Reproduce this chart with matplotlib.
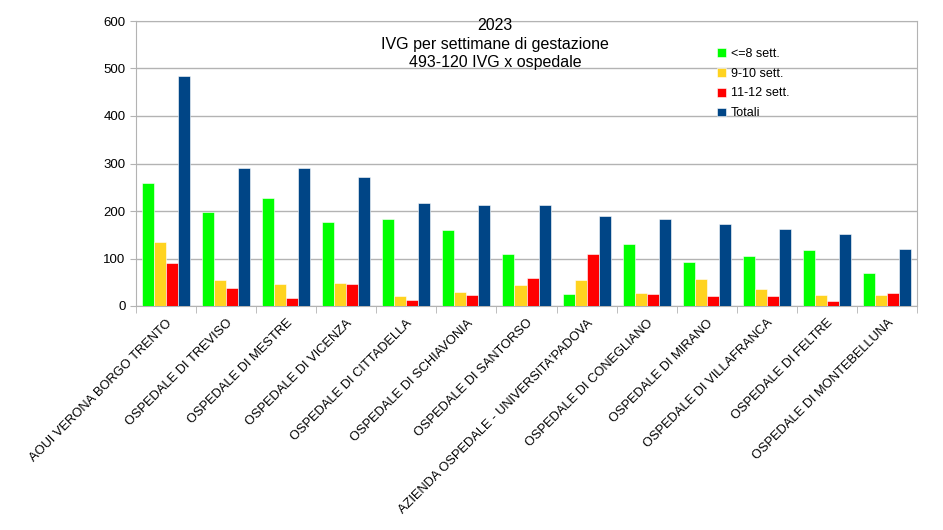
import matplotlib.pyplot as plt
import numpy as np

plt.rcParams['font.family'] = ['Liberation Sans', 'DejaVu Sans']

# Dati
ospedali = [
    "AOUI VERONA BORGO TRENTO",
    "OSPEDALE DI TREVISO",
    "OSPEDALE DI MESTRE",
    "OSPEDALE DI VICENZA",
    "OSPEDALE DI CITTADELLA",
    "OSPEDALE DI SCHIAVONIA",
    "OSPEDALE DI SANTORSO",
    "AZIENDA OSPEDALE - UNIVERSITA'PADOVA",
    "OSPEDALE DI CONEGLIANO",
    "OSPEDALE DI MIRANO",
    "OSPEDALE DI VILLAFRANCA",
    "OSPEDALE DI FELTRE",
    "OSPEDALE DI MONTEBELLUNA",
]
fino_8 = [258, 198, 228, 177, 183, 160, 110, 25, 131, 93, 105, 117, 70]
sett_9_10 = [135, 55, 46, 48, 21, 30, 44, 55, 28, 57, 36, 23, 24]
sett_11_12 = [91, 37, 16, 46, 13, 23, 59, 110, 25, 22, 21, 10, 27]
totali = [484, 290, 290, 271, 217, 213, 213, 190, 184, 172, 162, 151, 121]

serie = [
    ("<=8 sett.", fino_8, "#00ff00"),
    ("9-10 sett.", sett_9_10, "#ffd320"),
    ("11-12 sett.", sett_11_12, "#ff0000"),
    ("Totali", totali, "#004586"),
]

fig = plt.figure(figsize=(9.43, 5.30), dpi=100)
ax = fig.add_axes([136 / 943, 1 - 306 / 530, (917 - 136) / 943, (306 - 21) / 530])

x = np.arange(len(ospedali))
w = 0.2
for i, (nome, valori, colore) in enumerate(serie):
    ax.bar(x - 0.3 + i * w, valori, width=w, color=colore, label=nome,
           edgecolor="#ffffff", linewidth=0.4, zorder=3)

ax.set_xlim(-0.5, len(ospedali) - 0.5)
ax.set_ylim(0, 600)
ax.set_yticks(range(0, 601, 100))
ax.yaxis.grid(True, color="#b3b3b3", linewidth=1, zorder=0)

# etichette al centro, tacche ai bordi delle categorie
ax.set_xticks(x)
ax.set_xticklabels(ospedali, rotation=45, ha="right", rotation_mode="anchor", fontsize=9.3)
ax.tick_params(axis="x", which="major", length=0, pad=8)
ax.set_xticks(np.arange(-0.5, len(ospedali), 1), minor=True)
ax.tick_params(axis="x", which="minor", length=5, color="#b3b3b3")
ax.tick_params(axis="y", length=4, color="#b3b3b3", labelsize=9.5)

for s in ax.spines.values():
    s.set_color("#b3b3b3")

# titolo su tre righe
fig.text(495 / 943, 1 - 25 / 530, "2023", ha="center", va="center", fontsize=11.5)
fig.text(495 / 943, 1 - 45 / 530, "IVG per settimane di gestazione", ha="center", va="center", fontsize=11.5)
fig.text(495 / 943, 1 - 63 / 530, "493-120 IVG x ospedale", ha="center", va="center", fontsize=11.5)

ax.legend(loc="upper left", bbox_to_anchor=((712 - 136) / 781, 1 - (43 - 21) / 285),
          frameon=False, fontsize=9, handlelength=0.7, handleheight=0.7,
          handletextpad=0.4, labelspacing=0.62, borderaxespad=0)

fig.savefig("out.png", dpi=100)
